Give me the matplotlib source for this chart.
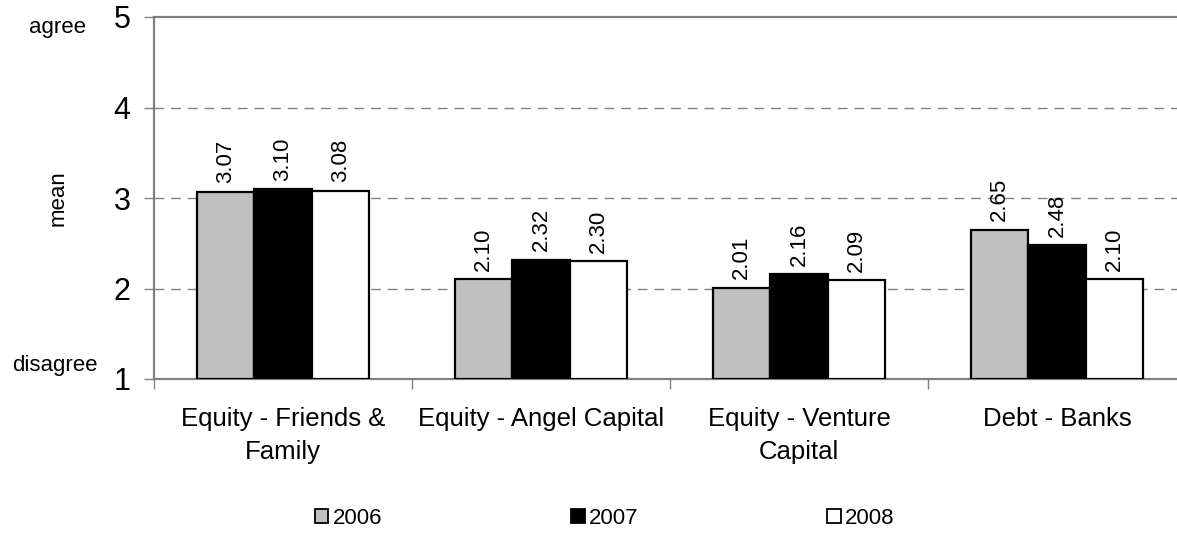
import matplotlib
matplotlib.use("Agg")
import matplotlib.pyplot as plt
import numpy as np
from matplotlib.patches import Patch

plt.rcParams['font.family'] = ['Liberation Sans', 'DejaVu Sans']

categories = ["Equity - Friends &\nFamily", "Equity - Angel Capital",
              "Equity - Venture\nCapital", "Debt - Banks"]
years = ["2006", "2007", "2008"]
values_2006 = [3.07, 2.10, 2.01, 2.65]
values_2007 = [3.10, 2.32, 2.16, 2.48]
values_2008 = [3.08, 2.30, 2.09, 2.10]
y_ticks = [1, 2, 3, 4, 5]

series = [values_2006, values_2007, values_2008]
colors = ["#C0C0C0", "#000000", "#FFFFFF"]

W, H = 1177, 533
fig = plt.figure(figsize=(W / 100, H / 100), dpi=100)
left, right, top, bottom = 154, 1186, 17, 379
ax = fig.add_axes([left / W, 1 - bottom / H, (right - left) / W, (bottom - top) / H])

n = len(categories)
x = np.arange(n)
bw = 0.223
for i, (vals, col) in enumerate(zip(series, colors)):
    pos = x + (i - 1) * bw
    ax.bar(pos, np.array(vals) - 1, bottom=1, width=bw, color=col,
           edgecolor="black", linewidth=1.6, zorder=3, label=years[i])
    for px, v in zip(pos, vals):
        ax.annotate(f"{v:.2f}", (px, v), xytext=(0, 6), textcoords="offset points",
                    rotation=90, ha="center", va="bottom", fontsize=16, zorder=4)

ax.set_xlim(-0.5, n - 0.5)
ax.set_ylim(1, 5)
ax.set_yticks(y_ticks)
ax.set_yticklabels([str(t) for t in y_ticks], fontsize=22)
for t in y_ticks[1:-1]:
    ax.axhline(t, color="#808080", linewidth=1, linestyle=(0, (7, 5)), zorder=1)

# category boundaries as ticks, names centred under each group
ax.set_xticks(np.arange(n + 1) - 0.5)
ax.set_xticklabels([])
ax.set_xticks(x, minor=True)
ax.set_xticklabels(categories, minor=True, fontsize=18.5, linespacing=1.5)
ax.tick_params(axis="x", which="minor", length=0, pad=20)
ax.tick_params(axis="x", which="major", length=7, width=1, color="#808080", direction="out")
ax.tick_params(axis="y", length=7, width=1, color="#808080", direction="out", pad=10)

for side in ["left", "top", "bottom"]:
    ax.spines[side].set_color("#808080")
    ax.spines[side].set_linewidth(1.6)
ax.spines["right"].set_visible(False)

fig.text(58 / W, 1 - 27 / H, "agree", ha="center", va="center", fontsize=16)
fig.text(55 / W, 1 - 365 / H, "disagree", ha="center", va="center", fontsize=16)
fig.text(58 / W, 1 - 198 / H, "mean", ha="center", va="center", fontsize=16, rotation=90)

handles = [Patch(facecolor=c, edgecolor="black", linewidth=1.3) for c in colors]
fig.legend(handles, years, loc="center left", bbox_to_anchor=(315 / W, 1 - 518 / H),
           ncol=3, frameon=False, fontsize=16, handlelength=0.6, handleheight=0.6,
           handletextpad=0.2, columnspacing=8.5, borderaxespad=0, borderpad=0)

fig.savefig("out.png", dpi=100)
